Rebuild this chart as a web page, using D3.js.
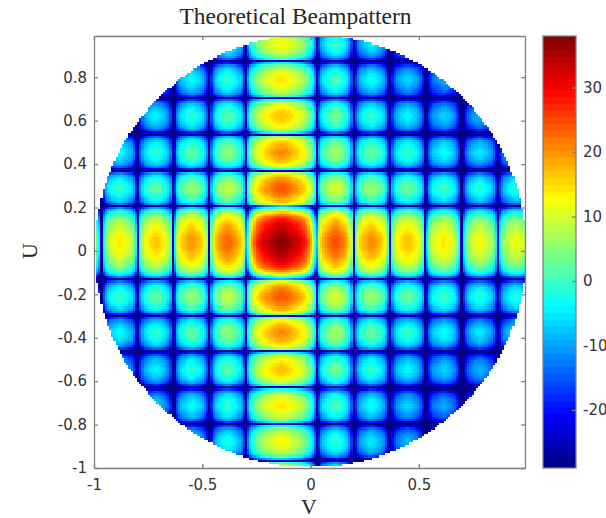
<!DOCTYPE html>
<html>
<head>
<meta charset="utf-8">
<script src="https://cdn.jsdelivr.net/npm/d3@7"></script>
<style>
  body { margin: 0; background: #fff; }
  svg { display: block; }
  .tick text { font-family: "DejaVu Sans", sans-serif; font-size: 15px; fill: #333; }
  .axis path, .axis line { stroke: #808080; stroke-width: 1.3; }
  .lbl { font-family: "Liberation Serif", serif; fill: #262626; }
</style>
</head>
<body>
<div id="chart"></div>
<script>
const xTicks = [-1, -0.5, 0, 0.5];
const yTicks = [-1, -0.8, -0.6, -0.4, -0.2, 0, 0.2, 0.4, 0.6, 0.8];
const cbTicks = [-20, -10, 0, 10, 20, 30];

const peakDb = 38;
const floorDb = -29;

// gain in dB against the peak, read along the row through the peak. V = -1, -0.99 ... 0.99
const vGain = [
  -31.5,-34.7,-40.6,-60,-38.6,-32.7,-29.5,-27.8,-26.6,-25.6,
  -24.7,-24,-24,-24.8,-25.8,-26.8,-28.2,-30,-33.6,-40.5,
  -60,-34.5,-29.4,-26.5,-25,-23.8,-22.9,-22.1,-21.5,-21.6,
  -22.4,-23.5,-24.7,-26.3,-28.4,-32.6,-60,-40,-29.1,-24.9,
  -22.8,-21.2,-20,-18.9,-18.1,-18,-18.6,-19.4,-20.3,-21.5,
  -23,-25.9,-31,-60,-31.5,-24.6,-21,-19.2,-17.8,-16.8,
  -15.8,-15,-15,-15.7,-16.6,-17.6,-18.8,-20.5,-23.7,-29.6,
  -46,-36,-26,-19.5,-14.5,-11,-9,-7.5,-6,-5,
  -4.2,-3.4,-2.6,-1.8,-1.1,-0.5,-0.1,-0.1,-0.5,-1.1,
  -1.8,-2.6,-3.4,-4.2,-5,-6,-7.5,-9,-11,-14.5,
  -19.5,-26,-36,-46,-29,-22.7,-19.2,-17.5,-16.2,-15.2,
  -14.3,-13.5,-13.5,-14.3,-15.2,-16.2,-17.5,-19.2,-22.7,-29,
  -60,-31.3,-25.8,-22.7,-21.1,-20,-19,-18.1,-17.5,-17.6,
  -18.4,-19.4,-20.6,-22.1,-24.1,-28.1,-36.5,-60,-32.7,-28.1,
  -25.5,-24.2,-23.1,-22.3,-21.5,-21,-21.5,-22.3,-23.1,-24.2,
  -25.5,-28.1,-32.7,-60,-42.5,-34.1,-30.1,-27.6,-26.4,-25.4,
  -24.7,-24,-23.5,-24.1,-25,-26,-27.1,-28.7,-31.8,-37.3,
  -60,-41,-34.7,-31.2,-29.5,-28.2,-27.2,-26.3,-25.5,-25.5,
  -26.3,-27.2,-28.2,-29.5,-31.2,-34.7,-41,-60,-39.8,-34.3,
  -31.2,-29.6,-28.5,-27.5,-26.6,-26,-26.4,-27,-27.7,-28.7
];

// same, along the column through the peak. U = -1, -0.99 ... 0.99
const uGain = [
  -28.5,-31,-35.7,-60,-44.5,-36.1,-32.1,-29.6,-28.4,-27.4,
  -26.4,-25.7,-25.5,-25.9,-26.8,-27.7,-29,-30.5,-33.4,-38.5,
  -60,-40,-33.1,-29.5,-27.7,-26.3,-25.3,-24.3,-23.5,-23.5,
  -24.3,-25.2,-26.2,-27.5,-29.2,-32.7,-39,-60,-34.8,-29.3,
  -26.7,-24.8,-23.5,-22.5,-21.4,-21,-21.2,-21.9,-22.8,-23.9,
  -25.4,-27.3,-31.1,-38.7,-60,-29.8,-25.1,-22.8,-21.1,-19.8,
  -18.9,-18.1,-17.5,-17.6,-18.5,-19.6,-20.9,-22.5,-24.6,-29.2,
  -60,-33,-24.6,-20.6,-18.6,-17.1,-15.9,-14.9,-14.1,-14,
  -14.5,-15.4,-16.3,-17.5,-19,-21.9,-27,-46,-36,-27,
  -21,-16.5,-12.5,-9.7,-8,-6.5,-5.4,-4.5,-3.6,-2.8,
  -2,-1.3,-0.6,-0.1,0,-0.1,-0.6,-1.3,-2,-2.8,
  -3.6,-4.5,-5.4,-6.5,-8,-9.7,-12.5,-16.5,-21,-27,
  -36,-46,-26.3,-21.6,-19.3,-17.6,-16.3,-15.1,-14.2,-14,
  -14.4,-15.3,-16.1,-17.2,-18.5,-21.1,-25.7,-60,-36.5,-28.1,
  -24.1,-22.1,-20.6,-19.4,-18.4,-17.6,-17.5,-18.1,-18.9,-19.8,
  -21,-22.5,-25.4,-30.5,-60,-37.5,-30.6,-27,-25.2,-23.8,
  -22.8,-21.8,-21,-21,-21.8,-22.7,-23.7,-25,-26.7,-30.2,
  -36.5,-60,-37.3,-31.8,-28.7,-27.1,-26,-25,-24.1,-23.5,
  -23.7,-24.4,-25.3,-26.4,-27.9,-29.8,-33.6,-41.2,-60,-37.3,
  -32.6,-30.3,-28.6,-27.3,-26.1,-25.2,-25,-25.4,-26.3,-27.1
];

// the main lobe is wider away from the peak row/column, so read those samples apart
const vSkirtStart = 71;
const vSkirt = [-24,-17.5,-14.2,-11.8,-9.8,-8.2,-6.8,-5.7,-4.6,-3.6,-2.8,-2,-1.2,-0.6,-0.2,0,
                0,-0.2,-0.6,-1.2,-2,-2.8,-3.6,-4.6,-5.7,-6.8,-8.2,-9.8,-11.8,-14.2,-17.5,-24];
const uSkirtStart = 88;
const uSkirt = [-26,-18.5,-14.8,-12.2,-10.2,-8.4,-7,-5.9,-4.8,-3.8,-2.9,-2.1,-1.3,-0.7,-0.2,0,0,
                0,-0.2,-0.7,-1.3,-2.1,-2.9,-3.8,-4.8,-5.9,-7,-8.4,-10.2,-12.2,-14.8,-18.5,-26];

const plot = { left: 94, right: 525, top: 36, bottom: 468 };
const bar = { left: 543, right: 576 };

const svg = d3.select("#chart").append("svg")
  .attr("width", 606)
  .attr("height", 518);

const xScale = d3.scaleLinear().domain([-1, 0.99]).range([plot.left, plot.right]);
const yScale = d3.scaleLinear().domain([-1, 0.99]).range([plot.bottom, plot.top]);

const xBand = d3.scaleBand().domain(d3.range(vGain.length)).range([plot.left, plot.right]);
const yBand = d3.scaleBand().domain(d3.range(uGain.length)).range([plot.bottom, plot.top]);

// jet, 64 levels like matlab
const jetRamp = d3.scaleLinear()
  .domain([0, 0.125, 0.375, 0.625, 0.875, 1])
  .range(["#000080", "#0000ff", "#00ffff", "#ffff00", "#ff0000", "#800000"])
  .interpolate(d3.interpolateRgb);
const jet = d3.range(64).map(i => jetRamp((i + 0.5) / 64));
const color = d3.scaleQuantize().domain([floorDb, peakDb]).range(jet);

const inV = k => k >= vSkirtStart && k < vSkirtStart + vSkirt.length;
const inU = j => j >= uSkirtStart && j < uSkirtStart + uSkirt.length;

// only the visible region u^2 + v^2 <= 1 has data
let cells = [];
uGain.forEach((gu, j) => {
  vGain.forEach((gv, k) => {
    const u = -1 + j * 0.01, v = -1 + k * 0.01;
    if (u * u + v * v > 1) return;
    const a = inU(j) && !inV(k) ? uSkirt[j - uSkirtStart] : gu;
    const b = inV(k) && !inU(j) ? vSkirt[k - vSkirtStart] : gv;
    cells.push({ j, k, db: Math.max(floorDb, peakDb + a + b) });
  });
});

svg.append("g")
  .attr("shape-rendering", "crispEdges")
  .selectAll("rect")
  .data(cells)
  .join("rect")
  .attr("x", d => xBand(d.k))
  .attr("y", d => yBand(d.j))
  .attr("width", xBand.bandwidth() + 0.4)
  .attr("height", yBand.bandwidth() + 0.4)
  .attr("fill", d => color(d.db));

const fmt = d => String(d);

svg.append("g").attr("class", "axis")
  .attr("transform", `translate(0,${plot.bottom})`)
  .call(d3.axisBottom(xScale).tickValues(xTicks).tickFormat(fmt).tickSizeInner(-4).tickSizeOuter(0).tickPadding(11));
svg.append("g").attr("class", "axis")
  .attr("transform", `translate(0,${plot.top})`)
  .call(d3.axisTop(xScale).tickValues(xTicks).tickFormat("").tickSizeInner(-4).tickSizeOuter(0));
svg.append("g").attr("class", "axis")
  .attr("transform", `translate(${plot.left},0)`)
  .call(d3.axisLeft(yScale).tickValues(yTicks).tickFormat(fmt).tickSizeInner(-4).tickSizeOuter(0).tickPadding(7));
svg.append("g").attr("class", "axis")
  .attr("transform", `translate(${plot.right},0)`)
  .call(d3.axisRight(yScale).tickValues(yTicks).tickFormat("").tickSizeInner(-4).tickSizeOuter(0));

// colorbar
const cbScale = d3.scaleLinear().domain([floorDb, peakDb]).range([plot.bottom, plot.top]);
const levelH = (plot.bottom - plot.top) / jet.length;

svg.append("g")
  .attr("shape-rendering", "crispEdges")
  .selectAll("rect")
  .data(jet)
  .join("rect")
  .attr("x", bar.left)
  .attr("y", (d, i) => plot.bottom - (i + 1) * levelH)
  .attr("width", bar.right - bar.left)
  .attr("height", levelH + 0.4)
  .attr("fill", d => d);

svg.append("rect")
  .attr("x", bar.left).attr("y", plot.top)
  .attr("width", bar.right - bar.left).attr("height", plot.bottom - plot.top)
  .attr("fill", "none").attr("stroke", "#808080").attr("stroke-width", 1.3);

svg.append("g").attr("class", "axis")
  .attr("transform", `translate(${bar.right},0)`)
  .call(d3.axisRight(cbScale).tickValues(cbTicks).tickFormat(fmt).tickSizeInner(-4).tickSizeOuter(0).tickPadding(7))
  .call(g => g.select(".domain").remove());

svg.append("text").attr("class", "lbl")
  .attr("x", 295.5).attr("y", 24)
  .attr("text-anchor", "middle")
  .attr("font-size", 23.4)
  .text("Theoretical Beampattern");

svg.append("text").attr("class", "lbl")
  .attr("x", 309).attr("y", 514)
  .attr("text-anchor", "middle")
  .attr("font-size", 22)
  .text("V");

svg.append("text").attr("class", "lbl")
  .attr("transform", "translate(37,251) rotate(-90)")
  .attr("text-anchor", "middle")
  .attr("font-size", 22)
  .text("U");
</script>
</body>
</html>
